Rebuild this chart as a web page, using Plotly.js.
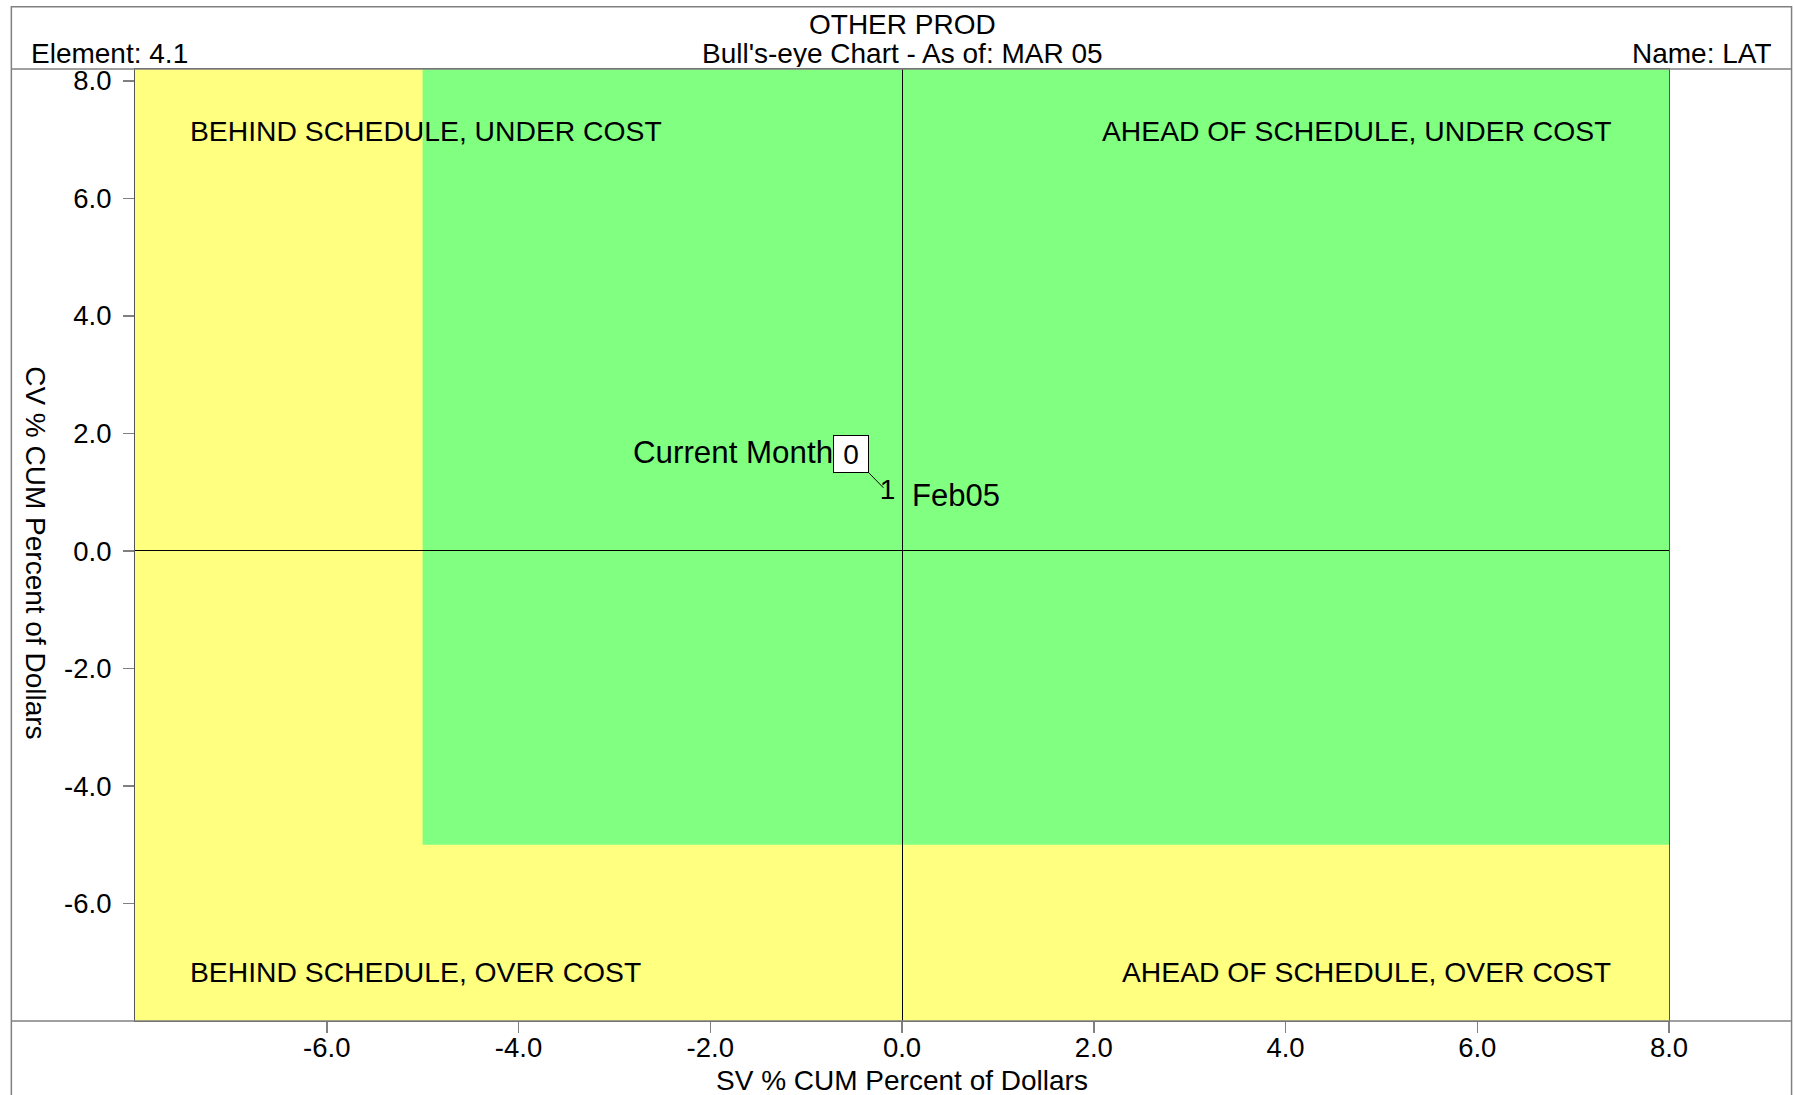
<!DOCTYPE html>
<html>
<head>
<meta charset="utf-8">
<script src="https://cdn.plot.ly/plotly-3.0.1.min.js"></script>
<style>html,body{margin:0;padding:0;background:#fff;}#chart{width:1794px;height:1095px;}</style>
</head>
<body>
<div id="chart"></div>
<script>
// ---- data ----
const xTickVals = [-6, -4, -2, 0, 2, 4, 6, 8];
const yTickVals = [-6, -4, -2, 0, 2, 4, 6, 8];
const xRange = [-8, 8];
const yRange = [-8, 8.2];
const greenX = [-5, 8];
const greenY = [-5, 8.2];
const pointSV = [-0.15];
const pointCV = [1.0];
const pointNumbers = ['1'];
const pointMonths = ['Feb05'];
const currentMonthLabel = '0';
const quadrantLabels = ['BEHIND SCHEDULE, UNDER COST', 'AHEAD OF SCHEDULE, UNDER COST', 'BEHIND SCHEDULE, OVER COST', 'AHEAD OF SCHEDULE, OVER COST'];
const quadrantX = [-7.45, 7.42, -7.45, 7.42];
const quadrantY = [7.14, 7.14, -7.16, -7.16];
const titleLine1 = 'OTHER PROD';
const titleLine2 = "Bull's-eye Chart - As of: MAR 05";
const elementLabel = 'Element: 4.1';
const nameLabel = 'Name: LAT';
const xTitle = 'SV % CUM Percent of Dollars';
const yTitle = 'CV % CUM Percent of Dollars';

const FONT = 'Liberation Sans, Arial, sans-serif';
const fmt = v => v.toFixed(1);

const traces = [{
  x: pointSV, y: pointCV, text: pointNumbers,
  mode: 'text', type: 'scatter', textposition: 'middle center',
  textfont: {family: FONT, size: 28, color: '#000'},
  hoverinfo: 'skip', showlegend: false, cliponaxis: false
}];

const annotations = [];
// header texts
annotations.push({xref:'paper', yref:'paper', x:0.5, y:1.0468, text:titleLine1, showarrow:false, xanchor:'center', yanchor:'middle', height:28, font:{family:FONT,size:28,color:'#000'}});
annotations.push({xref:'paper', yref:'paper', x:0.5, y:1.0168, text:titleLine2, showarrow:false, xanchor:'center', yanchor:'middle', height:28, font:{family:FONT,size:28,color:'#000'}});
annotations.push({xref:'paper', yref:'paper', x:-0.0693, y:1.0168, text:elementLabel, showarrow:false, xanchor:'left', yanchor:'middle', height:28, font:{family:FONT,size:28,color:'#000'}});
annotations.push({xref:'paper', yref:'paper', x:1.0682, y:1.0168, text:nameLabel, showarrow:false, xanchor:'right', yanchor:'middle', height:28, font:{family:FONT,size:28,color:'#000'}});
// axis titles
annotations.push({xref:'paper', yref:'paper', x:0.5, y:-0.0624, text:xTitle, showarrow:false, xanchor:'center', yanchor:'middle', font:{family:FONT,size:28,color:'#000'}});
annotations.push({xref:'paper', yref:'paper', x:-0.0649, y:0.492, text:yTitle, showarrow:false, textangle:90, xanchor:'center', yanchor:'middle', font:{family:FONT,size:28,color:'#000'}});
// quadrant labels
quadrantLabels.forEach((t, i) => {
  annotations.push({xref:'x', yref:'y', x:quadrantX[i], y:quadrantY[i], text:t, showarrow:false,
    xanchor: quadrantX[i] < 0 ? 'left' : 'right', yanchor:'middle', font:{family:FONT,size:28.3,color:'#000'}});
});
// point month label
pointSV.forEach((sv, i) => {
  annotations.push({xref:'x', yref:'y', x:sv, y:pointCV[i], text:pointMonths[i], showarrow:false,
    xanchor:'left', yanchor:'middle', xshift:22, yshift:-3, font:{family:FONT,size:31,color:'#000'}});
});
// current month box with leader
const last = pointSV.length - 1;
annotations.push({xref:'x', yref:'y', x:pointSV[last], y:pointCV[last], text:currentMonthLabel,
  showarrow:true, arrowhead:0, arrowwidth:1, arrowcolor:'#000', ax:-37, ay:-38, standoff:6,
  bordercolor:'#000', borderwidth:1, borderpad:0, bgcolor:'#fff', width:34, height:36,
  font:{family:FONT,size:28,color:'#000'}});
annotations.push({xref:'x', yref:'y', x:pointSV[last], y:pointCV[last], text:'Current Month', showarrow:false,
  xanchor:'right', yanchor:'middle', xshift:-53, yshift:40, font:{family:FONT,size:31.3,color:'#000'}});

const shapes = [
  {type:'rect', xref:'x', yref:'y', x0:greenX[0], x1:greenX[1], y0:greenY[0], y1:greenY[1], fillcolor:'#80FF80', line:{width:0}, layer:'below'},
  // outer frame
  {type:'rect', xref:'paper', yref:'paper', x0:-0.0806, x1:1.0799, y0:-0.12, y1:1.0655, line:{color:'#808080', width:1.5}, fillcolor:'rgba(0,0,0,0)', layer:'above'},
  {type:'line', xref:'paper', yref:'paper', x0:-0.0806, x1:1.0799, y0:1, y1:1, line:{color:'#808080', width:1.5}},
  {type:'line', xref:'paper', yref:'paper', x0:-0.0806, x1:1.0799, y0:0, y1:0, line:{color:'#808080', width:1.5}}
];

const axisCommon = {
  showgrid:false, zeroline:true, zerolinecolor:'#000', zerolinewidth:1,
  showline:true, mirror:true, linecolor:'#555', linewidth:1,
  ticks:'outside', ticklen:11, tickcolor:'#808080', tickwidth:1.5,
  tickfont:{family:FONT, size:27.5, color:'#000'}, fixedrange:true
};

const layout = {
  width:1794, height:1095,
  margin:{l:135, r:125, t:69, b:74, pad:0},
  paper_bgcolor:'#fff', plot_bgcolor:'#FFFF80',
  font:{family:FONT, color:'#000'},
  xaxis:Object.assign({}, axisCommon, {range:xRange, tickvals:xTickVals, ticktext:xTickVals.map(fmt), ticklabelstandoff:-9}),
  yaxis:Object.assign({}, axisCommon, {range:yRange, tickvals:yTickVals, ticktext:yTickVals.map(fmt), ticklabelstandoff:6}),
  shapes:shapes, annotations:annotations, showlegend:false
};

Plotly.newPlot('chart', traces, layout, {displayModeBar:false, staticPlot:true});
</script>
</body>
</html>
